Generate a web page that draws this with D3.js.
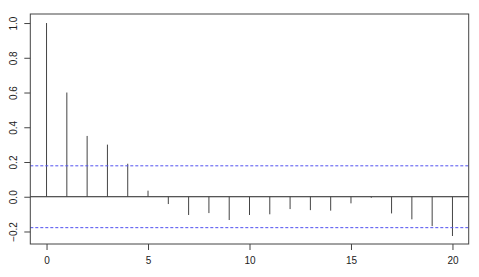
<!DOCTYPE html>
<html>
<head>
<meta charset="utf-8">
<script src="https://cdn.jsdelivr.net/npm/d3@7"></script>
<style>
body { margin: 0; background: #fff; }
</style>
</head>
<body>
<div class="canvas"></div>
<script>
// acf values, lags 0..20
var lags = d3.range(0, 21);
var acfValues = [1.0, 0.60, 0.35, 0.30, 0.19, 0.035, -0.042, -0.105, -0.094, -0.134, -0.105,
                 -0.101, -0.071, -0.077, -0.080, -0.038, -0.006, -0.096, -0.130, -0.169, -0.226];
var ciLimit = [0.178];
var xTicks = [0, 5, 10, 15, 20];
var yTicks = [-0.2, 0.0, 0.2, 0.4, 0.6, 0.8, 1.0];

var svg = d3.select(".canvas")
	.append("svg")
	.attr("width", 479)
	.attr("height", 277);

var x = d3.scaleLinear().domain([-0.8, 20.8]).range([30.3, 468.7]);
var y = d3.scaleLinear().domain([-0.272, 1.052]).range([244, 14]);

var font = "Liberation Sans, Arial, sans-serif";

// zero line
svg.append("line")
	.attr("x1", x(-0.8)).attr("x2", x(20.8))
	.attr("y1", y(0)).attr("y2", y(0))
	.attr("stroke", "#222").attr("stroke-width", 1);

// spikes
svg.selectAll(".spike")
	.data(lags)
	.enter().append("line")
	.attr("class", "spike")
	.attr("x1", function(d){ return x(d); })
	.attr("x2", function(d){ return x(d); })
	.attr("y1", y(0))
	.attr("y2", function(d){ return y(acfValues[d]); })
	.attr("stroke", "#444")
	.attr("stroke-width", 1);

// confidence bands
svg.selectAll(".ci")
	.data([ciLimit[0], -ciLimit[0]])
	.enter().append("line")
	.attr("class", "ci")
	.attr("x1", x(-0.8)).attr("x2", x(20.8))
	.attr("y1", function(d){ return y(d); })
	.attr("y2", function(d){ return y(d); })
	.attr("stroke", "#5050f0")
	.attr("stroke-width", 1)
	.attr("stroke-dasharray", "3,2");

// box
svg.append("rect")
	.attr("x", x(-0.8)).attr("y", y(1.052))
	.attr("width", x(20.8) - x(-0.8))
	.attr("height", y(-0.272) - y(1.052))
	.attr("fill", "none")
	.attr("stroke", "#444")
	.attr("stroke-width", 1);

// x axis
var xAxis = svg.append("g")
	.attr("transform", "translate(0," + 244 + ")")
	.call(d3.axisBottom(x).tickValues(xTicks).tickSize(6).tickPadding(7).tickFormat(d3.format("d")));
xAxis.select(".domain").remove();
xAxis.selectAll("text").attr("font-family", font).attr("font-size", "10px").attr("fill", "#222");
xAxis.selectAll("line").attr("stroke", "#444");

// y axis
var yAxis = svg.append("g")
	.attr("transform", "translate(" + 30.3 + ",0)")
	.call(d3.axisLeft(y).tickValues(yTicks).tickSize(6).tickFormat(d3.format(".1f")));
yAxis.select(".domain").remove();
yAxis.selectAll("line").attr("stroke", "#444");
yAxis.selectAll("text")
	.attr("font-family", font)
	.attr("font-size", "10px")
	.attr("fill", "#222")
	.attr("text-anchor", "middle")
	.attr("dy", null)
	.attr("x", null)
	.attr("transform", "translate(-17,0) rotate(-90)")
	.attr("dominant-baseline", "central");
</script>
</body>
</html>
